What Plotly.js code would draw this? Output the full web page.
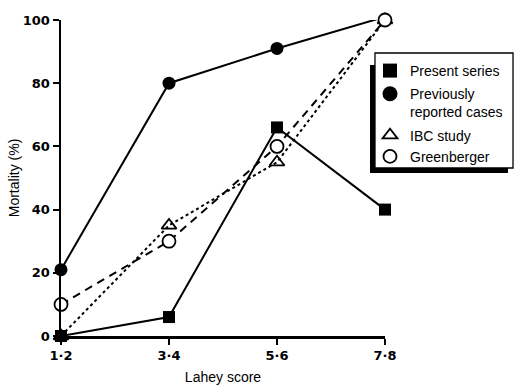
<!DOCTYPE html>
<html><head><meta charset="utf-8">
<script src="https://cdn.plot.ly/plotly-3.0.1.min.js"></script>
<style>body{margin:0;background:#fff}#chart{width:515px;height:385px}</style>
</head><body><div id="chart"></div>
<script>
const categories = ["1-2", "3-4", "5-6", "7-8"];
const tickLabels = ["1·2", "3·4", "5·6", "7·8"];
const yTicks = [0, 20, 40, 60, 80, 100];
const presentSeries = [0, 6, 66, 40];
const previouslyReported = [21, 80, 91, 101];
const ibcStudy = [0, 35, 55, 100];
const greenberger = [10, 30, 60, 100];
const xIdx = categories.map((c, i) => i);

const tickFont = {size: 13, family: 'DejaVu Sans, sans-serif', weight: 'bold', color: '#000'};
const textFont = 'Liberation Sans, Arial, sans-serif';

const traces = [
  {x: xIdx, y: ibcStudy, mode: 'lines+markers', showlegend: false,
   line: {color: '#000', width: 2, dash: 'dot'}, marker: {symbol: 'triangle-up-open', size: 13, color: '#000', line: {width: 1.8}}, cliponaxis: false},
  {x: xIdx, y: greenberger, mode: 'lines+markers', showlegend: false,
   line: {color: '#000', width: 2, dash: '8px,6px'}, marker: {symbol: 'circle', size: 13, color: '#fff', line: {color: '#000', width: 1.8}}, cliponaxis: false},
  {x: xIdx, y: presentSeries, mode: 'lines+markers', showlegend: false,
   line: {color: '#000', width: 2}, marker: {symbol: 'square', size: 12, color: '#000'}, cliponaxis: false},
  {x: xIdx, y: previouslyReported, mode: 'lines+markers', showlegend: false,
   line: {color: '#000', width: 2}, marker: {symbol: 'circle', size: 13, color: '#000'}, cliponaxis: false},
  // legend-only entries
  {x: [null], y: [null], mode: 'markers', name: 'Present series', legendgroup: 'a', marker: {symbol: 'square', size: 14, color: '#000'}},
  {x: [null], y: [null], mode: 'markers', name: 'Previously<br>reported cases', legendgroup: 'b', marker: {symbol: 'circle', size: 15, color: '#000'}},
  {x: [null], y: [null], mode: 'markers', name: 'IBC study', legendgroup: 'c', marker: {symbol: 'triangle-up-open', size: 13, color: '#000', line: {width: 1.8}}},
  {x: [null], y: [null], mode: 'markers', name: 'Greenberger', legendgroup: 'c', marker: {symbol: 'circle', size: 13, color: '#fff', line: {color: '#000', width: 1.8}}}
];

const layout = {
  width: 515, height: 385,
  margin: {l: 61, r: 130, t: 20, b: 49, autoexpand: false},
  paper_bgcolor: '#fff', plot_bgcolor: '#fff',
  font: {family: textFont, color: '#000', size: 14},
  showlegend: true,
  legend: {x: 0.9537, y: 0.8893, xanchor: 'left', yanchor: 'top', bgcolor: 'rgba(0,0,0,0)', borderwidth: 0,
           font: {size: 14, family: textFont}, tracegroupgap: 2, itemwidth: 30, valign: 'top'},
  xaxis: {range: [0, 3], tickvals: xIdx, ticktext: tickLabels, showgrid: false, zeroline: false,
          showline: true, linecolor: '#000', linewidth: 2.5, ticks: 'outside', ticklen: 6, tickwidth: 2, tickcolor: '#000',
          tickfont: tickFont,
          title: {text: 'Lahey score', font: {size: 14, family: textFont}, standoff: 10}},
  yaxis: {range: [0, 100], tickvals: yTicks, showgrid: false, zeroline: false,
          showline: true, linecolor: '#000', linewidth: 2.5, ticks: 'outside', ticklen: 6, tickwidth: 2, tickcolor: '#000',
          tickfont: tickFont,
          title: {text: 'Mortality (%)', font: {size: 14, family: textFont}, standoff: 0}},
  shapes: [
    {type: 'rect', xref: 'paper', yref: 'paper', x0: 0.9537, x1: 1.3796, y0: 0.5158, y1: 0.8576, fillcolor: '#000', line: {width: 0}, layer: 'above'},
    {type: 'rect', xref: 'paper', yref: 'paper', x0: 0.9691, x1: 1.3951, y0: 0.5316, y1: 0.8956, fillcolor: '#fff', line: {color: '#000', width: 1.3}, layer: 'above'}
  ]
};

Plotly.newPlot('chart', traces, layout, {displayModeBar: false, staticPlot: true});
</script></body></html>
